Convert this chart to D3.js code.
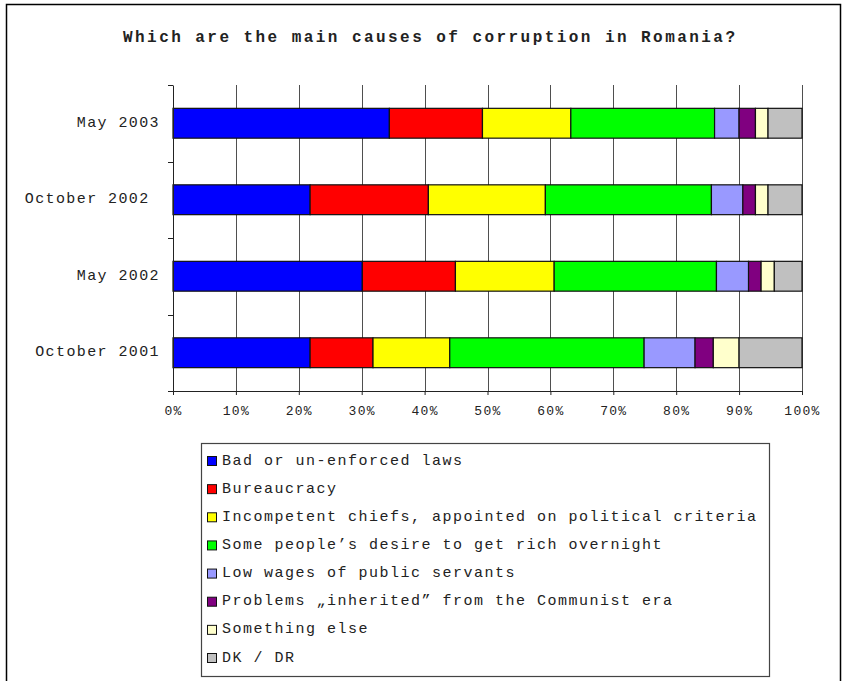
<!DOCTYPE html>
<html>
<head>
<meta charset="utf-8">
<script src="https://cdn.jsdelivr.net/npm/d3@7"></script>
<style>
  html, body { margin: 0; padding: 0; background: #fff; }
  svg { display: block; }
  text { font-family: "Liberation Mono", "Courier New", monospace; fill: #222; white-space: pre; }
</style>
</head>
<body>
<div id="chart"></div>
<script>
// Survey waves, top to bottom
const periods = ["May 2003", "October 2002 ", "May 2002", "October 2001"];

// Answer categories (stack order, left to right)
const causes = [
  "Bad or un-enforced laws",
  "Bureaucracy",
  "Incompetent chiefs, appointed on political criteria",
  "Some people\u2019s desire to get rich overnight",
  "Low wages of public servants",
  "Problems \u201einherited\u201d from the Communist era",
  "Something else",
  "DK / DR"
];

const colors = ["#0000ff", "#ff0000", "#ffff00", "#00ff00", "#9999ff", "#800080", "#ffffcc", "#c0c0c0"];

// Shares (%) per survey wave, in the order of `causes`
const may2003 = [34.4, 14.8, 14.05, 22.85, 3.9, 2.6, 2.0, 5.4];
const oct2002 = [21.8, 18.8, 18.6, 26.4, 5.0, 2.0, 2.0, 5.4];
const may2002 = [30.1, 14.8, 15.7, 25.8, 5.1, 2.0, 2.1, 4.4];
const oct2001 = [21.8, 10.0, 12.2, 30.9, 8.1, 2.9, 4.1, 10.0];

const xTicks = [0, 10, 20, 30, 40, 50, 60, 70, 80, 90, 100];
const title = "Which are the main causes of corruption in Romania?";

const series = [may2003, oct2002, may2002, oct2001];

const W = 842, H = 681;
const plot = { left: 173, right: 802, top: 85, bottom: 391 };

const svg = d3.select("#chart").append("svg").attr("width", W).attr("height", H);

// outer frame
svg.append("rect")
  .attr("x", 6.5).attr("y", 4.5).attr("width", 834).attr("height", 690)
  .attr("fill", "none").attr("stroke", "#000").attr("stroke-width", 1.5);

// title
svg.append("text")
  .attr("x", 429).attr("y", 38).attr("text-anchor", "middle").attr("dominant-baseline", "central")
  .attr("font-weight", "bold").attr("font-size", 16)
  .attr("textLength", 612).attr("lengthAdjust", "spacing")
  .text(title);

const x = d3.scaleLinear().domain([0, 100]).range([plot.left, plot.right]);
const y = d3.scaleBand().domain(periods).range([plot.top, plot.bottom]).padding(0);
const barH = y.bandwidth() * 0.39;

// vertical gridlines
svg.append("g").selectAll("line").data(xTicks.filter(d => d > 0)).join("line")
  .attr("x1", d => Math.round(x(d)) + 0.5).attr("x2", d => Math.round(x(d)) + 0.5)
  .attr("y1", plot.top).attr("y2", plot.bottom)
  .attr("stroke", "#222").attr("stroke-width", 0.8);

// stacked bars
const stackData = periods.map((p, i) => {
  let acc = 0;
  return series[i].map((v, j) => {
    const seg = { period: p, idx: j, x0: acc, x1: acc + v };
    acc += v;
    return seg;
  });
}).flat();

svg.append("g").selectAll("rect").data(stackData).join("rect")
  .attr("x", d => x(d.x0))
  .attr("width", d => x(d.x1) - x(d.x0))
  .attr("y", d => y(d.period) + (y.bandwidth() - barH) / 2)
  .attr("height", barH)
  .attr("fill", d => colors[d.idx])
  .attr("stroke", "#111").attr("stroke-width", 1.2);

// x axis
const xAxis = svg.append("g").attr("transform", `translate(0,${plot.bottom})`)
  .call(d3.axisBottom(x).tickValues(xTicks).tickSize(4).tickFormat(d => d + "%"));
xAxis.select(".domain").attr("stroke", "#222");
xAxis.selectAll(".tick line").attr("stroke", "#222");
xAxis.selectAll(".tick text")
  .attr("y", 20).attr("dy", null).attr("dominant-baseline", "central")
  .attr("font-family", "'Liberation Mono', monospace").attr("font-size", 13)
  .attr("letter-spacing", 1.3).attr("fill", "#333");

// y axis
const yAxis = svg.append("g").attr("transform", `translate(${plot.left},0)`)
  .call(d3.axisLeft(y).tickSize(0).tickPadding(13));
yAxis.select(".domain").attr("stroke", "#222");
yAxis.selectAll(".tick text")
  .attr("dy", null).attr("dominant-baseline", "central")
  .attr("font-family", "'Liberation Mono', monospace").attr("font-size", 15)
  .attr("letter-spacing", 1.4).attr("fill", "#333");

// band boundary ticks on the y axis
const bounds = periods.map(p => y(p)).concat([plot.bottom]);
svg.append("g").selectAll("line").data(bounds).join("line")
  .attr("x1", plot.left - 5).attr("x2", plot.left)
  .attr("y1", d => Math.round(d) + 0.5).attr("y2", d => Math.round(d) + 0.5)
  .attr("stroke", "#222");

// legend
const lg = svg.append("g");
lg.append("rect")
  .attr("x", 201.5).attr("y", 443.5).attr("width", 568).attr("height", 233)
  .attr("fill", "#fff").attr("stroke", "#444").attr("stroke-width", 1.2);

const rowY = d3.scalePoint().domain(causes).range([461, 658]);
const items = lg.selectAll("g.item").data(causes).join("g").attr("class", "item")
  .attr("transform", d => `translate(0,${rowY(d)})`);
items.append("rect")
  .attr("x", 207.5).attr("y", -4.5).attr("width", 9).attr("height", 9)
  .attr("fill", (d, i) => colors[i]).attr("stroke", "#111").attr("stroke-width", 1);
items.append("text")
  .attr("x", 222).attr("y", 0).attr("dominant-baseline", "central")
  .attr("font-size", 15).attr("letter-spacing", 1.5).attr("fill", "#333")
  .text(d => d);
</script>
</body>
</html>
